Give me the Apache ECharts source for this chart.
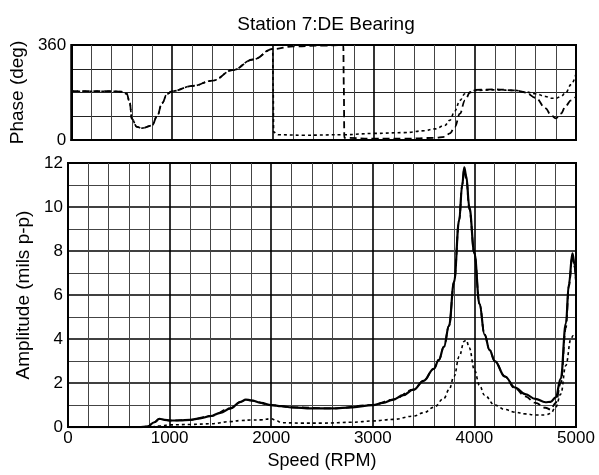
<!DOCTYPE html>
<html>
<head>
<meta charset="utf-8">
<script src="https://cdn.jsdelivr.net/npm/echarts@6/dist/echarts.min.js"></script>
<style>html,body{margin:0;padding:0;background:#fff}#c{width:599px;height:475px}</style>
</head>
<body>
<div id="c"></div>
<script>
// ---- Data ----
const titleText = "Station 7:DE Bearing";
const speedTicks = [0, 1000, 2000, 3000, 4000, 5000];
const ampTicks = [0, 2, 4, 6, 8, 10, 12];
const phaseTicks = [0, 360];

// Amplitude, solid trace
const ampSolidX = [0,700,780,850,900,950,1000,1100,1200,1300,1400,1500,1600,1700,1750,1800,1900,2000,2100,2200,2400,2600,2800,3000,3100,3200,3300,3400,3500,3600,3650,3700,3750,3800,3850,3880,3900,3920,3950,4000,4050,4100,4150,4200,4300,4400,4500,4600,4700,4750,4800,4850,4900,4930,4965,4985,5000];
const ampSolidY = [0,0,0.02,0.22,0.38,0.33,0.3,0.3,0.33,0.4,0.5,0.65,0.85,1.15,1.25,1.22,1.1,1.0,0.95,0.9,0.85,0.85,0.9,1.0,1.1,1.25,1.45,1.7,2.1,2.65,3.05,3.65,4.6,6.6,9.4,11.0,11.8,11.4,10.0,7.9,5.6,4.2,3.5,3.0,2.3,1.8,1.5,1.28,1.13,1.15,1.35,2.2,4.7,6.5,7.9,7.4,6.7];

// Amplitude, long-dashed trace
const ampDashX = [0,700,780,850,900,950,1000,1200,1400,1600,1700,1750,1800,2000,2200,2600,3000,3200,3400,3500,3600,3650,3700,3750,3800,3850,3880,3900,3920,3950,4000,4050,4100,4150,4200,4300,4400,4500,4600,4700,4750,4800,4850,4900,4930,4965,4985,5000];
const ampDashY = [0,0,0.02,0.22,0.37,0.33,0.3,0.33,0.5,0.85,1.15,1.24,1.2,1.0,0.9,0.85,1.0,1.25,1.7,2.1,2.65,3.05,3.65,4.6,6.6,9.4,11.0,11.7,11.3,9.9,7.9,5.6,4.2,3.5,3.0,2.3,1.75,1.4,1.1,0.88,0.8,1.1,2.0,4.5,6.4,7.8,7.3,6.6];

// Amplitude, short-dashed trace
const ampDotX = [0,800,900,1000,1200,1400,1600,1700,1800,1900,2000,2050,2100,2300,2500,2800,3000,3200,3400,3500,3600,3700,3750,3800,3850,3900,3920,3950,4000,4050,4100,4200,4300,4400,4500,4600,4700,4750,4800,4850,4900,4950,4970,5000];
const ampDotY = [0,0,0.05,0.1,0.12,0.15,0.25,0.3,0.32,0.33,0.38,0.3,0.2,0.18,0.18,0.22,0.28,0.35,0.5,0.65,0.9,1.3,1.7,2.3,3.2,3.9,3.95,3.6,2.6,1.9,1.45,1.0,0.8,0.68,0.6,0.55,0.55,0.62,0.9,1.5,2.8,4.0,4.15,4.0];

// Phase, long-dashed trace
const phDashX = [0,200,400,500,550,580,600,650,700,800,850,900,950,1000,1200,1400,1600,1800,2000,2200,2500,2695,2700,2705,3000,3300,3600,3700,3750,3800,3850,3900,3950,4000,4200,4400,4500,4600,4700,4750,4800,4850,4900,4950,5000];
const phDashY = [185,185,185,183,175,140,80,50,45,55,90,140,175,185,205,225,265,305,345,355,358,360,200,8,5,5,8,12,25,50,100,150,180,190,192,188,180,160,120,95,82,100,130,150,165];

// Phase, short-dashed trace
const phDotX = [0,200,400,500,550,580,600,650,700,800,850,900,950,1000,1200,1400,1600,1800,1995,2000,2005,2050,2300,2700,3000,3300,3500,3600,3700,3750,3800,3850,3900,4000,4200,4400,4500,4600,4700,4750,4800,4850,4900,4950,5000];
const phDotY = [185,185,185,183,175,140,80,50,45,55,90,140,175,185,205,225,265,305,345,200,30,20,18,20,25,28,35,42,55,75,110,150,175,188,190,188,182,175,165,158,158,165,180,210,250];

const pairs = (xs, ys) => xs.map((x, i) => [x, ys[i]]);

// ---- Chart ----
const FONT = 'Liberation Sans';
const chart = echarts.init(document.getElementById('c'), null, {renderer: 'canvas'});

const majorLine = {show: true, lineStyle: {color: '#000', width: 1.6}};
const minorLine = {show: true, lineStyle: {color: '#444', width: 1}};

function xAxisDef(gridIndex, showLabels) {
  return {
    type: 'value', gridIndex, min: speedTicks[0], max: speedTicks[speedTicks.length - 1],
    interval: speedTicks[1] - speedTicks[0],
    axisLine: {show: true, onZero: false, lineStyle: {color: '#000', width: 2}},
    axisTick: {show: false},
    minorTick: {show: false, splitNumber: 5},
    splitLine: majorLine,
    minorSplitLine: minorLine,
    axisLabel: {show: showLabels, color: '#000', fontFamily: FONT, fontSize: 17, margin: 3,
      formatter: v => speedTicks.includes(v) ? String(v) : ''},
    name: showLabels ? 'Speed (RPM)' : '',
    nameLocation: 'middle', nameGap: 17,
    nameTextStyle: {color: '#000', fontFamily: FONT, fontSize: 18}
  };
}

const lineBase = {type: 'line', showSymbol: false, symbol: 'none', smooth: 0.4, smoothMonotone: 'x', animation: false};

chart.setOption({
  animation: false,
  backgroundColor: '#fff',
  title: {
    text: titleText, left: 321, top: 10, textAlign: 'center',
    textStyle: {color: '#000', fontFamily: FONT, fontSize: 19, fontWeight: 'normal'}
  },
  grid: [
    {left: 68, right: 23, top: 45, height: 95, show: true, borderColor: '#000', borderWidth: 2, backgroundColor: 'transparent'},
    {left: 68, right: 23, top: 163, height: 275, show: true, borderColor: '#000', borderWidth: 2, backgroundColor: 'transparent'}
  ],
  xAxis: [xAxisDef(0, false), xAxisDef(1, true)],
  yAxis: [
    {
      type: 'value', gridIndex: 0, min: phaseTicks[0], max: phaseTicks[1], interval: phaseTicks[1] - phaseTicks[0],
      axisLine: {show: true, lineStyle: {color: '#000', width: 2}},
      axisTick: {show: false},
      minorTick: {show: false, splitNumber: 4},
      splitLine: {show: true, lineStyle: {color: '#000', width: 1.2}},
      minorSplitLine: {show: true, lineStyle: {color: '#222', width: 1.1}},
      axisLabel: {color: '#000', fontFamily: FONT, fontSize: 17, margin: 5},
      name: 'Phase (deg)', nameLocation: 'middle', nameGap: 40,
      nameTextStyle: {color: '#000', fontFamily: FONT, fontSize: 19}
    },
    {
      type: 'value', gridIndex: 1, min: ampTicks[0], max: ampTicks[ampTicks.length - 1], interval: ampTicks[1] - ampTicks[0],
      axisLine: {show: true, lineStyle: {color: '#000', width: 2}},
      axisTick: {show: false},
      minorTick: {show: false, splitNumber: 2},
      splitLine: majorLine,
      minorSplitLine: minorLine,
      axisLabel: {color: '#000', fontFamily: FONT, fontSize: 17, margin: 5},
      name: 'Amplitude (mils p-p)', nameLocation: 'middle', nameGap: 28,
      nameTextStyle: {color: '#000', fontFamily: FONT, fontSize: 19}
    }
  ],
  series: [
    Object.assign({}, lineBase, {name: 'phase-dash', xAxisIndex: 0, yAxisIndex: 0, data: pairs(phDashX, phDashY),
      lineStyle: {color: '#000', width: 1.8, type: [7, 4]}}),
    Object.assign({}, lineBase, {name: 'phase-dot', xAxisIndex: 0, yAxisIndex: 0, data: pairs(phDotX, phDotY),
      lineStyle: {color: '#000', width: 1.6, type: [3, 3]}}),
    Object.assign({}, lineBase, {name: 'amp-dot', xAxisIndex: 1, yAxisIndex: 1, data: pairs(ampDotX, ampDotY),
      lineStyle: {color: '#000', width: 1.6, type: [3, 3]}}),
    Object.assign({}, lineBase, {name: 'amp-dash', xAxisIndex: 1, yAxisIndex: 1, data: pairs(ampDashX, ampDashY),
      lineStyle: {color: '#000', width: 1.8, type: [7, 4]}}),
    Object.assign({}, lineBase, {name: 'amp-solid', xAxisIndex: 1, yAxisIndex: 1, data: pairs(ampSolidX, ampSolidY),
      lineStyle: {color: '#000', width: 2.2, type: 'solid'}})
  ]
});
</script>
</body>
</html>
